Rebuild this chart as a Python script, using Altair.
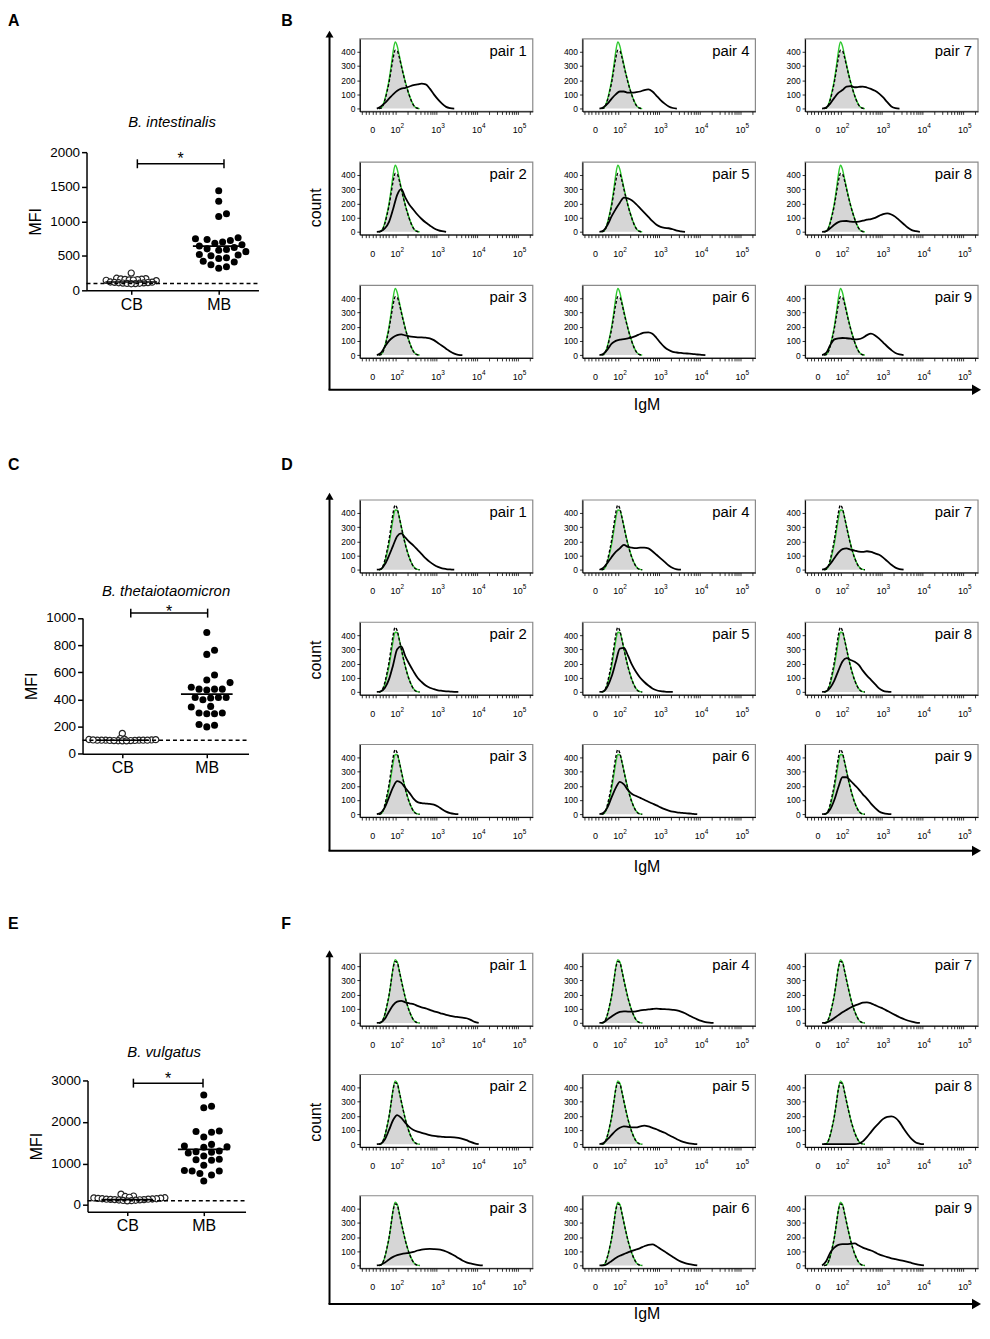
import math
import altair as alt
import pandas as pd

FONT = "Liberation Sans"
W_TOTAL, H_TOTAL = 980, 1316
M = 8  # page margin, used to turn page positions into chart positions

# ---------------- scatter panels (MFI) ----------------
GROUPS = ["CB", "MB"]
LOD = 100

A_TITLE = "B. intestinalis"
A_CB = [250, 175, 168, 165, 160, 158, 155, 150, 148, 145, 140, 120, 118, 115, 112, 110, 108, 105, 102, 100, 98, 95]
A_MB = [1440, 1290, 1110, 1070, 760, 745, 735, 720, 700, 680, 660, 640, 620, 600, 590, 580, 560, 520,
        510, 500, 470, 460, 420, 410, 370, 340, 320]
A_MED = [120, 640]
A_TICKS = [0, 500, 1000, 1500, 2000]
A_BRACKET_X = [1.07, 2.06]
A_BRACKET_Y = 1832

C_TITLE = "B. thetaiotaomicron"
C_CB = [150, 112, 108, 105, 102, 100, 100, 100, 100, 100, 98, 98, 97, 96, 95, 95, 100, 102, 104, 97]
C_MB = [893, 763, 732, 580, 544, 524, 490, 476, 476, 476, 470, 415, 415, 415, 410, 398, 349, 344,
        300, 300, 295, 295, 215, 210, 198]
C_MED = [100, 439]
C_TICKS = [0, 200, 400, 600, 800, 1000]
C_BRACKET_X = [1.10, 2.01]
C_BRACKET_Y = 1036

E_TITLE = "B. vulgatus"
E_CB = [260, 215, 205, 185, 175, 170, 165, 160, 150, 150, 145, 140, 140, 135, 130, 130, 125, 120, 115, 110, 105, 100]
E_MB = [2650, 2380, 2340, 1780, 1770, 1750, 1640, 1460, 1420, 1400, 1390, 1300, 1280, 1270, 1250, 1180,
        1100, 1090, 1080, 960, 830, 820, 820, 760, 720, 580]
E_MED = [130, 1340]
E_TICKS = [0, 1000, 2000, 3000]
E_BRACKET_X = [1.08, 1.99]
E_BRACKET_Y = 2935

# ---------------- histogram panels (IgM) ----------------
U_GRID = [0.1, 0.2, 0.3, 0.4, 0.5, 0.6, 0.7, 0.8, 0.9, 1.0, 1.1, 1.2, 1.3, 1.4, 1.5, 1.6, 1.7, 1.8,
          1.9, 2.0, 2.1, 2.2, 2.3, 2.4, 2.5, 2.6, 2.7, 2.8, 2.9]
CTRL_U = [0.15, 0.2, 0.25, 0.3, 0.35, 0.4, 0.45, 0.5, 0.55, 0.6, 0.65, 0.7, 0.75, 0.8, 0.85, 0.9,
          0.95, 1.0, 1.05, 1.1, 1.15]

GREY_B = [0, 3, 20, 60, 115, 180, 265, 350, 400, 400, 360, 300, 240, 185, 135, 90, 52, 24, 8, 2, 0]
GREEN_B = [0, 4, 24, 68, 128, 200, 295, 400, 468, 440, 375, 308, 245, 188, 137, 92, 54, 25, 9, 2, 0]
DASH_B = [0, 3, 21, 62, 118, 185, 270, 355, 410, 405, 362, 300, 240, 184, 134, 90, 52, 24, 8, 2, 0]

GREY_D = [0, 3, 20, 60, 120, 190, 280, 370, 425, 415, 365, 300, 235, 175, 125, 82, 48, 22, 7, 2, 0]
GREEN_D = [0, 3, 20, 58, 115, 182, 270, 360, 420, 418, 370, 305, 240, 180, 128, 84, 49, 23, 8, 2, 0]
DASH_D = [0, 4, 25, 70, 135, 210, 305, 400, 455, 430, 370, 302, 236, 176, 125, 82, 48, 22, 7, 2, 0]

GREY_F = [0, 3, 20, 60, 118, 185, 275, 365, 415, 410, 360, 295, 232, 172, 122, 80, 46, 21, 7, 2, 0]
GREEN_F = [0, 3, 21, 62, 122, 192, 288, 388, 445, 430, 370, 302, 238, 176, 125, 82, 48, 22, 7, 2, 0]
DASH_F = [0, 3, 22, 65, 125, 195, 290, 385, 432, 425, 368, 300, 236, 175, 124, 81, 47, 21, 7, 2, 0]

B_P1 = [0, 15, 40, 70, 100, 125, 140, 145, 155, 165, 170, 175, 170, 140, 100, 65, 35, 12, 3, 0]
B_P2 = [0, 5, 25, 70, 160, 260, 300, 240, 190, 155, 120, 90, 65, 45, 25, 12, 4, 0]
B_P3 = [0, 15, 60, 100, 125, 140, 145, 138, 132, 128, 125, 124, 122, 118, 105, 85, 65, 45, 25, 10, 2, 0]
B_P4 = [0, 10, 35, 70, 100, 120, 120, 112, 112, 115, 120, 130, 135, 120, 90, 60, 35, 15, 4, 0]
B_P5 = [0, 10, 50, 110, 160, 205, 240, 235, 220, 195, 165, 135, 105, 75, 50, 35, 28, 25, 18, 8, 3, 0]
B_P6 = [0, 10, 40, 80, 100, 108, 112, 118, 125, 135, 148, 158, 160, 150, 120, 85, 55, 35, 22, 18, 15,
        12, 10, 7, 4, 2, 0]
B_P7 = [0, 8, 35, 75, 110, 130, 155, 158, 150, 152, 155, 148, 138, 125, 105, 78, 45, 15, 3, 0]
B_P8 = [0, 5, 25, 50, 68, 75, 76, 72, 70, 72, 78, 85, 90, 98, 112, 125, 130, 122, 105, 80, 55, 30, 12, 4, 0]
B_P9 = [0, 15, 70, 110, 118, 120, 118, 115, 110, 112, 122, 140, 150, 138, 115, 88, 60, 35, 15, 5, 0]

D_P1 = [0, 5, 40, 100, 170, 235, 255, 225, 195, 170, 140, 110, 80, 55, 35, 20, 10, 5, 2, 0]
D_P2 = [0, 5, 30, 90, 190, 300, 320, 250, 195, 145, 100, 70, 45, 30, 20, 12, 8, 5, 3, 1, 0]
D_P3 = [0, 10, 50, 120, 190, 232, 220, 185, 150, 110, 85, 78, 75, 72, 68, 55, 35, 18, 7, 2, 0]
D_P4 = [0, 15, 50, 90, 125, 150, 175, 160, 155, 152, 155, 155, 150, 130, 105, 80, 55, 30, 12, 3, 0]
D_P5 = [0, 5, 40, 110, 210, 305, 310, 255, 190, 140, 100, 70, 45, 25, 12, 6, 3, 1, 0]
D_P6 = [0, 10, 50, 120, 185, 228, 210, 170, 142, 128, 115, 102, 88, 75, 62, 48, 36, 26, 18, 13, 10, 7, 5, 2, 0]
D_P7 = [0, 10, 40, 80, 120, 145, 150, 142, 135, 128, 125, 130, 125, 115, 105, 85, 60, 35, 15, 5, 0]
D_P8 = [0, 5, 30, 80, 150, 215, 238, 225, 212, 190, 150, 115, 85, 55, 25, 8, 2, 0]
D_P9 = [0, 5, 35, 100, 190, 260, 260, 235, 205, 175, 140, 110, 75, 45, 20, 8, 2, 0]

F_P1 = [0, 5, 30, 80, 125, 150, 155, 145, 138, 132, 120, 110, 102, 92, 82, 74, 65, 57, 50, 45, 41, 37, 33, 22, 8, 0]
F_P2 = [0, 5, 35, 100, 170, 205, 185, 150, 120, 100, 88, 80, 72, 64, 58, 54, 52, 50, 50, 48, 44, 38, 28, 16, 6, 0]
F_P3 = [0, 5, 20, 42, 60, 72, 80, 85, 88, 95, 105, 112, 115, 116, 115, 113, 108, 98, 85, 70, 52, 35, 22,
        14, 8, 3, 0]
F_P4 = [0, 5, 25, 45, 65, 78, 82, 80, 80, 82, 88, 92, 95, 98, 100, 98, 97, 95, 92, 88, 80, 68, 52, 38,
        25, 14, 6, 2, 0]
F_P5 = [0, 8, 35, 65, 95, 115, 125, 122, 118, 118, 125, 130, 125, 115, 105, 92, 80, 65, 50, 35, 22, 12, 6, 2, 0]
F_P6 = [0, 0, 12, 32, 52, 68, 80, 92, 102, 112, 122, 135, 145, 148, 135, 115, 98, 78, 60, 42, 27, 16, 9, 4, 0]
F_P7 = [0, 3, 15, 35, 55, 75, 92, 108, 122, 132, 142, 145, 138, 125, 112, 100, 85, 70, 55, 40, 28, 17, 9, 3, 0]
F_P8 = [0, 0, 0, 0, 0, 0, 0, 0, 0, 5, 20, 50, 85, 120, 150, 178, 192, 195, 185, 155, 110, 70, 35, 12, 3, 0]
F_P9 = [0, 30, 90, 125, 145, 150, 150, 152, 155, 140, 125, 115, 105, 92, 78, 68, 58, 50, 44, 38, 32, 25,
        17, 10, 4, 0]

X_TICK_POS = [0, 0.56, 1.56, 2.56, 3.56]
X_TICK_BASE = ["0", "10", "10", "10", "10"]
X_TICK_EXP = ["", "2", "3", "4", "5"]
Y_TICKS_H = [0, 100, 200, 300, 400]

# minor ticks of the biexponential axis
X_MINOR = [-0.26, -0.18, -0.1, 0.08, 0.16, 0.24, 0.32, 0.4, 0.48]
for d in range(4):
    for m in range(1, 10):
        p = 0.56 + d + math.log10(m)
        if p < 3.9:
            X_MINOR.append(round(p, 4))
X_ALL_TICKS = sorted(set(X_MINOR + X_TICK_POS))

PW, PH = 174, 73
XDOM_H = [-0.317, 3.927]
YDOM_H = [-20, 490]
COL_X = [362, 586, 810]
ROW_TOPS_B = [35, 159, 283]
ROW_TOPS_D = [499, 622, 745]
ROW_TOPS_F = [955, 1077, 1199]


def swarm(values, yppu, xppu, diam, tol, step):
    order = sorted(range(len(values)), key=lambda i: values[i])
    placed = []
    offs = [0.0] * len(values)
    cands = [0]
    for j in range(1, 80):
        cands += [j, -j]
    for i in order:
        y = values[i] * yppu
        x = 0.0
        for c in cands:
            x = c * diam * step
            if all((x - px) ** 2 + (y - py) ** 2 >= (diam * tol) ** 2 for px, py in placed):
                break
        placed.append((x, y))
        offs[i] = x / xppu
    return offs


def scatter_chart(cb, mb, med, ticks, ydom, xdom, left, top, W, H, bx, by, star_dy, cb_tol):
    gx, gy = left - M, top - M
    xppu = W / (xdom[1] - xdom[0])
    yppu = H / (ydom[1] - ydom[0])
    cbo = swarm(cb, yppu, xppu, 7.0, cb_tol, 0.3)
    mbo = swarm(mb, yppu, xppu, 7.8, 1.0, 0.5)
    cb_df = pd.DataFrame({"x": [1 + o for o in cbo], "v": cb})
    mb_df = pd.DataFrame({"x": [2 + o for o in mbo], "v": mb})
    xs = alt.Scale(domain=xdom, range=[gx, gx + W], nice=False, zero=False)
    ys = alt.Scale(domain=ydom, range=[gy + H, gy], nice=False, zero=False)
    lab = f"datum.value == 1 ? '{GROUPS[0]}' : '{GROUPS[1]}'"
    xax = alt.Axis(orient="bottom", offset=gy + H - H_TOTAL, values=[1, 2], labelExpr=lab, title=None,
                   labelFontSize=16, tickSize=4, tickWidth=1.5, domainWidth=1.5, labelPadding=2,
                   domainColor="black", tickColor="black", labelColor="black", grid=False, zindex=1)
    yax = alt.Axis(orient="left", offset=-gx, values=ticks, format="d", title="MFI", titleFontSize=16,
                   titleFontWeight="normal", labelFontSize=13.5, tickSize=5, tickWidth=1.5,
                   domainWidth=1.5, labelPadding=2, titlePadding=6, domainColor="black",
                   tickColor="black", labelColor="black", grid=False, zindex=1)

    def X(f):
        return alt.X(f, scale=xs, axis=xax)

    def Y(f):
        return alt.Y(f, scale=ys, axis=yax)

    cbp = alt.Chart(cb_df).mark_point(shape="circle", filled=True, fill="white", stroke="#222",
                                      strokeWidth=1.2, size=38, opacity=1).encode(x=X("x:Q"), y=Y("v:Q"))
    lod = alt.Chart(pd.DataFrame({"x": [xdom[0]], "x2": [xdom[1]], "v": [LOD]})).mark_rule(
        strokeDash=[4, 3], strokeWidth=1.5, color="black").encode(x=X("x:Q"), x2="x2:Q", y=Y("v:Q"))
    mbp = alt.Chart(mb_df).mark_circle(color="black", size=50, opacity=1).encode(x=X("x:Q"), y=Y("v:Q"))
    medl = alt.Chart(pd.DataFrame({"x": [1, 2], "v": med})).mark_tick(
        orient="horizontal", size=52, thickness=1.6, color="black", opacity=1).encode(x=X("x:Q"), y=Y("v:Q"))
    br = alt.Chart(pd.DataFrame({"x": [bx[0]], "x2": [bx[1]], "v": [by]})).mark_rule(
        strokeWidth=1.5, color="black").encode(x=X("x:Q"), x2="x2:Q", y=Y("v:Q"))
    caps = alt.Chart(pd.DataFrame({"x": bx, "v": [by, by]})).mark_tick(
        orient="vertical", size=9, thickness=1.5, color="black", opacity=1).encode(x=X("x:Q"), y=Y("v:Q"))
    star = alt.Chart(pd.DataFrame({"x": [(bx[0] + bx[1]) / 2], "v": [by], "t": ["*"]})).mark_text(
        fontSize=16, dy=star_dy, baseline="top", color="black").encode(x=X("x:Q"), y=Y("v:Q"), text="t:N")
    return alt.layer(cbp, lod, mbp, medl, br, caps, star)


def hist_panel(pair, black, grey, green, dash, left, top):
    gx, gy = left - M, top - M
    gb = gy + PH
    ctrl = pd.DataFrame({"u": CTRL_U, "grey": grey, "green": green, "dash": dash})
    blk = pd.DataFrame({"u": U_GRID[:len(black)], "c": black})
    xs = alt.Scale(domain=XDOM_H, range=[gx, gx + PW], nice=False, zero=False)
    ys = alt.Scale(domain=YDOM_H, range=[gb, gy], nice=False, zero=False)
    xax = alt.Axis(orient="bottom", offset=gb - H_TOTAL, values=X_ALL_TICKS, labels=False, title=None,
                   tickSize=3, tickWidth=0.8, domainWidth=1, domainColor="black", tickColor="black",
                   grid=False, zindex=1)
    yax = alt.Axis(orient="left", offset=-gx, values=Y_TICKS_H, title=None, labelFontSize=8.5,
                   tickSize=3, tickWidth=0.8, domainWidth=1, labelPadding=2, domainColor="black",
                   tickColor="black", labelColor="black", grid=False, zindex=1)

    def X(f):
        return alt.X(f, scale=xs, axis=xax)

    def Y(f):
        return alt.Y(f, scale=ys, axis=yax)

    box = alt.Chart(pd.DataFrame({"x": [XDOM_H[0]], "x2": [XDOM_H[1]], "y": [YDOM_H[0]], "y2": [YDOM_H[1]]})
                    ).mark_rect(fillOpacity=0, stroke="#8a8a8a", strokeWidth=1.2).encode(
        x=X("x:Q"), x2="x2:Q", y=Y("y:Q"), y2="y2:Q")
    bc = alt.Chart(ctrl)
    area = bc.mark_area(color="#d6d6d6", interpolate="monotone", opacity=1).encode(
        x=X("u:Q"), y=Y("grey:Q"), y2=alt.datum(0))
    gl = bc.mark_line(color="#2ec82e", strokeWidth=1.4, interpolate="monotone").encode(x=X("u:Q"), y=Y("green:Q"))
    dl = bc.mark_line(color="black", strokeWidth=1.4, strokeDash=[3, 2], interpolate="monotone").encode(
        x=X("u:Q"), y=Y("dash:Q"))
    bl = alt.Chart(blk).mark_line(color="black", strokeWidth=1.8, interpolate="monotone").encode(
        x=X("u:Q"), y=Y("c:Q"))
    lab = pd.DataFrame({"pos": X_TICK_POS, "base": X_TICK_BASE, "exp": X_TICK_EXP})
    tb = alt.Chart(lab).mark_text(fontSize=9, baseline="alphabetic", align="center", color="black").encode(
        x=X("pos:Q"), y=alt.value(gb + 22), text="base:N")
    te = alt.Chart(lab).mark_text(fontSize=6.5, baseline="alphabetic", align="left", dx=5,
                                  color="black").encode(x=X("pos:Q"), y=alt.value(gb + 17), text="exp:N")
    pt = alt.Chart(pd.DataFrame({"t": [f"pair  {pair}"]})).mark_text(
        fontSize=15, align="right", baseline="alphabetic", color="black").encode(
        x=alt.value(gx + PW - 6), y=alt.value(gy + 17), text="t:N")
    return alt.layer(box, area, gl, dl, bl, tb, te, pt)


def text_mark(txt, x, y, size=16, **kw):
    return alt.Chart(pd.DataFrame({"t": [txt]})).mark_text(fontSize=size, color="black", **kw).encode(
        x=alt.value(x - M), y=alt.value(y - M), text="t:N")


def arrows(tip_y, line_y, count_y, igm_y):
    d = pd.DataFrame({"k": [0]})
    ax = 331.5 - M
    vl = alt.Chart(d).mark_rule(strokeWidth=2, color="black").encode(
        x=alt.value(ax), y=alt.value(tip_y - M + 5), y2=alt.value(line_y - M))
    hl = alt.Chart(d).mark_rule(strokeWidth=2, color="black").encode(
        x=alt.value(ax - 1), x2=alt.value(978 - M), y=alt.value(line_y - M))
    hu = alt.Chart(d).mark_point(shape="triangle-up", filled=True, size=64, color="black", opacity=1).encode(
        x=alt.value(ax), y=alt.value(tip_y - M + 3.5))
    hr = alt.Chart(d).mark_point(shape="triangle-right", filled=True, size=110, color="black",
                                 opacity=1).encode(x=alt.value(982.5 - M), y=alt.value(line_y - M))
    ct = text_mark("count", 318, count_y, 16, angle=270, baseline="middle")
    ig = text_mark("IgM", 651, igm_y, 16, baseline="middle")
    return [vl, hl, hu, hr, ct, ig]


layers = []
for series, tops, ctrl in [
    ([B_P1, B_P2, B_P3, B_P4, B_P5, B_P6, B_P7, B_P8, B_P9], ROW_TOPS_B, (GREY_B, GREEN_B, DASH_B)),
    ([D_P1, D_P2, D_P3, D_P4, D_P5, D_P6, D_P7, D_P8, D_P9], ROW_TOPS_D, (GREY_D, GREEN_D, DASH_D)),
    ([F_P1, F_P2, F_P3, F_P4, F_P5, F_P6, F_P7, F_P8, F_P9], ROW_TOPS_F, (GREY_F, GREEN_F, DASH_F)),
]:
    for c in range(3):
        for r in range(3):
            k = r + 3 * c
            layers.append(hist_panel(k + 1, series[k], *ctrl, COL_X[c], tops[r]))

layers.append(scatter_chart(A_CB, A_MB, A_MED, A_TICKS, [0, 2000], [0.489, 2.454], 87, 149, 173, 139,
                            A_BRACKET_X, A_BRACKET_Y, -13, 0.57))
layers.append(scatter_chart(C_CB, C_MB, C_MED, C_TICKS, [0, 1000], [0.529, 2.494], 83, 617.7, 167, 136.6,
                            C_BRACKET_X, C_BRACKET_Y, -9, 0.36))
layers.append(scatter_chart(E_CB, E_MB, E_MED, E_TICKS, [-160, 3000], [0.48, 2.546], 88, 1083, 159, 132,
                            E_BRACKET_X, E_BRACKET_Y, -12, 0.53))

# arrows and shared axis titles of the histogram blocks
layers += arrows(26.7, 388, 205, 403)
layers += arrows(491.7, 852, 660, 868)
layers += arrows(952, 1308, 1125, 1318)

# panel letters and scatter titles
for letter, x, y in [("A", 8, 9), ("B", 283, 9), ("C", 8, 456), ("D", 283, 456), ("E", 8, 918), ("F", 283, 918)]:
    layers.append(text_mark(letter, x, y, 16, fontWeight="bold", align="left", baseline="top"))
for title, x, y in [(A_TITLE, 173, 119), (C_TITLE, 167, 591), (E_TITLE, 165, 1054)]:
    layers.append(text_mark(title, x, y, 15, fontStyle="italic", align="center", baseline="middle"))

chart = alt.layer(*layers).resolve_scale(x="independent", y="independent").resolve_axis(
    x="independent", y="independent").properties(
    width=W_TOTAL, height=H_TOTAL, padding=0, autosize=alt.AutoSizeParams(type="none")
).configure(font=FONT).configure_view(stroke=None).configure_axis(labelFont=FONT, titleFont=FONT)

chart.save("out.html", embed_options={"renderer": "svg", "actions": False})
